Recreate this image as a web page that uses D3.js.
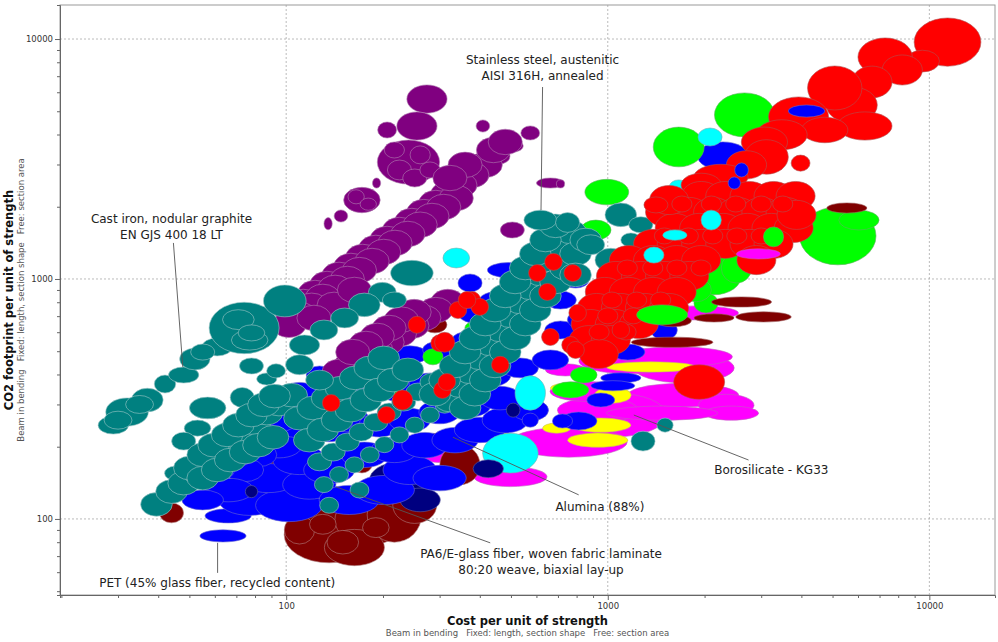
<!DOCTYPE html>
<html>
<head>
<meta charset="utf-8">
<script src="https://cdn.jsdelivr.net/npm/d3@7"></script>
<style>
  body { margin: 0; background: #fff; }
  svg text { font-family: "DejaVu Sans", Verdana, sans-serif; }
</style>
</head>
<body>
<svg id="chart"></svg>
<script>
// Each material: [cost per unit strength, CO2 per unit strength, cost range factor, CO2 range factor]
// (range factor = hi/centre, so a bubble spans value/f .. value*f); entries without factors use the set default
const costDomain = [19.8, 16000];
const co2Domain = [48.2, 13860];
const costTicks = [100, 1000, 10000];
const co2Ticks = [100, 1000, 10000];

const tealDefaultRange = [1.12, 1.12];
const purpleDefaultRange = [1.13, 1.13];
const redDefaultRange = [1.15, 1.15];
const dotDefaultRange = [1.065, 1.085];

const magentaGlass = [
  [1729, 426, 1.43, 1.155], [1714, 328, 1.49, 1.12], [1043, 271, 1.46, 1.235], [756, 209, 1.52, 1.155],
  [498, 150, 1.3, 1.1], [300, 189, 1.17, 1.1], [931, 284, 1.335, 1.13], [2336, 298, 1.22, 1.11],
  [2422, 276, 1.215, 1.07], [1910, 722, 1.335, 1.07], [1163, 455, 1.43, 1.13], [739, 418, 1.155, 1.06],
  [316, 351, 1.05, 1.04], [1476, 276, 1.49, 1.07], [1638, 474, 1.49, 1.1], [860, 340, 1.3, 1.1]
];
const magentaOverRed = [[2940, 1272, 1.17, 1.05]];

const yellowCeramics = [
  [931, 213, 1.24, 1.07], [951, 246, 1.24, 1.07], [1037, 328, 1.14, 1.08], [1363, 430, 1.38, 1.05],
  [756, 351, 1.14, 1.05], [480, 217, 1.075, 1.05], [693, 239, 1.105, 1.05]
];

const darkRedLow = [
  [136, 86, 1.38, 1.31], [182, 99, 1.285, 1.27], [217, 104, 1.215, 1.3], [163, 76, 1.24, 1.19],
  [110, 90, 1.115, 1.145], [251, 114, 1.17, 1.19], [150, 80, 1.12, 1.12], [190, 92, 1.1, 1.1],
  [130, 95, 1.1, 1.1], [347, 168, 1.155, 1.21], [44, 106, 1.09, 1.1], [94, 180, 1.09, 1.11],
  [172, 168, 1.075, 1.08], [294, 213, 1.06, 1.07]
];
const darkRedFront = [
  [5540, 1976, 1.155, 1.05], [2606, 802, 1.24, 1.05], [3049, 695, 1.22, 1.05], [2140, 688, 1.155, 1.04],
  [1585, 545, 1.34, 1.05], [1596, 670, 1.14, 1.06], [290, 644, 1.09, 1.08], [398, 398, 1.03, 1.04]
];

const navyBack = [[225, 145, 1.24, 1.19], [261, 120, 1.155, 1.12]];
const navyFront = [[425, 162, 1.115, 1.09], [508, 284, 1.05, 1.07], [78, 130, 1.045, 1.06], [129, 269, 1.04, 1.04]];

const blueLower = [
  [63.6, 85, 1.18, 1.06], [66, 103, 1.18, 1.07], [77, 120, 1.25, 1.16], [102, 114, 1.27, 1.17],
  [88, 148, 1.24, 1.15], [118, 139, 1.21, 1.15], [110, 176, 1.21, 1.15], [95, 203, 1.18, 1.13],
  [136, 160, 1.2, 1.14], [157, 120, 1.24, 1.15], [202, 132, 1.24, 1.15], [242, 160, 1.21, 1.15],
  [300, 148, 1.21, 1.13], [175, 185, 1.18, 1.13], [217, 194, 1.18, 1.13], [270, 203, 1.18, 1.13],
  [335, 213, 1.18, 1.13], [400, 235, 1.2, 1.13], [480, 258, 1.18, 1.13], [574, 284, 1.14, 1.11],
  [110, 246, 1.18, 1.13], [136, 235, 1.16, 1.12], [157, 258, 1.16, 1.12], [195, 246, 1.16, 1.12],
  [242, 258, 1.16, 1.12], [300, 279, 1.16, 1.12], [373, 298, 1.16, 1.12], [463, 319, 1.16, 1.12],
  [110, 328, 1.16, 1.13], [136, 313, 1.14, 1.12], [169, 328, 1.14, 1.12], [225, 345, 1.16, 1.12],
  [280, 362, 1.16, 1.12], [347, 379, 1.16, 1.12], [431, 398, 1.16, 1.12], [534, 426, 1.14, 1.1],
  [663, 460, 1.14, 1.1], [95, 258, 1.14, 1.12], [82, 185, 1.14, 1.12], [74, 160, 1.15, 1.12],
  [59.5, 160, 1.16, 1.12], [69, 185, 1.16, 1.12], [66, 132, 1.2, 1.12], [55, 120, 1.16, 1.1]
];
const blueUpper = [
  [127, 398, 1.1, 1.09], [152, 426, 1.12, 1.09], [188, 439, 1.12, 1.09], [242, 483, 1.14, 1.09],
  [300, 506, 1.13, 1.09], [373, 556, 1.14, 1.09], [400, 709, 1.16, 1.09], [463, 817, 1.16, 1.09],
  [490, 1089, 1.16, 1.075], [574, 900, 1.14, 1.09], [640, 1089, 1.14, 1.08], [713, 1570, 1.14, 1.05],
  [373, 962, 1.09, 1.09], [713, 817, 1.12, 1.09], [794, 990, 1.1, 1.08], [713, 613, 1.12, 1.09],
  [824, 677, 1.1, 1.09], [854, 531, 1.12, 1.09], [918, 677, 1.1, 1.09], [766, 1523, 1.09, 1.05]
];
const blueRight = [
  [1496, 613, 1.1, 1.1], [1155, 496, 1.13, 1.08], [1098, 387, 1.155, 1.05], [1037, 359, 1.17, 1.05],
  [812, 256, 1.14, 1.09], [723, 256, 1.075, 1.07], [574, 258, 1.06, 1.07], [951, 313, 1.105, 1.07],
  [2281, 3255, 1.2, 1.145]
];
const blueOverRed = [[4150, 5010, 1.14, 1.06], [2606, 2846, 1.05, 1.07], [2474, 2511, 1.045, 1.06]];

const greenSet = [
  [2662, 4827, 1.24, 1.235], [1662, 3549, 1.2, 1.21], [993, 2302, 1.17, 1.13], [5190, 1512, 1.315, 1.32],
  [6040, 1760, 1.155, 1.1], [2140, 1040, 1.22, 1.21], [2513, 1111, 1.115, 1.155], [2020, 794, 1.09, 1.1],
  [918, 1600, 1.115, 1.1], [286, 474, 1.075, 1.08], [213, 355, 1.075, 1.08], [766, 345, 1.14, 1.08],
  [971, 540, 1.09, 1.08], [381, 625, 1.06, 1.06], [1883, 900, 1.115, 1.12], [1412, 817, 1.09, 1.08],
  [842, 398, 1.1, 1.08]
];
const greenOverRed = [[3277, 1498, 1.075, 1.1], [1476, 709, 1.2, 1.1]];

const cyanSet = [
  [338, 1223, 1.1, 1.1], [498, 188, 1.22, 1.21], [574, 335, 1.115, 1.18], [182, 398, 1.075, 1.06],
  [2080, 3905, 1.09, 1.09], [1662, 2418, 1.07, 1.07]
];
const cyanOverRed = [[2097, 1760, 1.075, 1.1], [1617, 1523, 1.09, 1.05], [1391, 1258, 1.075, 1.08]];

const purpleCluster = [
  [274, 5623, 1.155, 1.145], [255, 4340, 1.155, 1.145], [206, 4177, 1.07, 1.08], [240, 3069, 1.25, 1.235],
  [225, 2846, 1.09, 1.1], [261, 3290, 1.075, 1.09], [251, 2635, 1.09, 1.09], [217, 3448, 1.075, 1.08],
  [280, 2846, 1.075, 1.08], [191, 2511, 1.03, 1.05], [172, 2133, 1.14, 1.13], [165, 2200, 1.06, 1.07],
  [180, 2050, 1.06, 1.06], [148, 1830, 1.05, 1.06], [135, 1700, 1.03, 1.06], [409, 4340, 1.05, 1.06],
  [574, 4060, 1.07, 1.07], [508, 3583, 1.075, 1.06], [460, 3255, 1.08, 1.08], [663, 2511, 1.105, 1.05],
  [505, 1600, 1.09, 1.08], [713, 2490, 1.03, 1.04]
];
const purpleBandUpper = [
  [416, 2990], [378, 2713], [347, 2463], [318, 2262], [292, 2073], [268, 1900], [246, 1744], [225, 1600],
  [206, 1468], [190, 1347], [173, 1235], [159, 1133], [146, 1040], [134, 953], [123, 874], [113, 802], [104, 736],
  [338, 2175], [309, 1995], [284, 1830], [261, 1683], [239, 1540], [218, 1413], [201, 1296], [185, 1188],
  [169, 1089], [155, 1000], [142, 918], [130, 842], [120, 773], [110, 709], [102, 644],
  [141, 780], [122, 688], [163, 900], [360, 2990], [323, 2635], [441, 3448], [480, 3725]
];
const purpleBandLower = [
  [318, 802], [292, 742], [268, 688], [246, 638], [225, 591], [206, 545], [190, 506], [173, 469], [159, 439], [146, 410],
  [250, 728], [228, 677], [209, 625], [192, 579], [177, 536], [161, 496]
];

const tealCastIron = [
  [29, 246, 1.115, 1.09], [32, 279, 1.165, 1.145], [37, 313, 1.12, 1.12], [42, 365, 1.08, 1.09],
  [48, 398, 1.115, 1.08], [52, 464, 1.115, 1.11], [61, 521, 1.115, 1.09], [74, 625, 1.285, 1.28],
  [99, 810, 1.165, 1.165], [77, 556, 1.14, 1.1], [35, 300, 1.105, 1.09], [55, 496, 1.09, 1.08],
  [30, 258, 1.105, 1.09], [71, 677, 1.12, 1.1], [78, 596, 1.1, 1.08], [78, 434, 1.09, 1.08],
  [87, 383, 1.075, 1.06], [93, 414, 1.07, 1.07], [73, 321, 1.09, 1.1], [57, 290, 1.14, 1.11],
  [53, 239, 1.1, 1.08], [48, 211, 1.09, 1.09], [45, 155, 1.075, 1.07]
];
const tealSteelBand = [
  [39.5, 115], [44, 130], [48, 141], [53, 157], [57, 173], [62, 190], [67, 207], [73, 228], [80, 251],
  [87, 276], [95, 301], [104, 328],
  [50, 163], [55, 185], [59.5, 203], [65.5, 224], [71, 246], [78, 271], [85, 299], [92, 325],
  [55, 148], [61, 160], [67, 176], [74.5, 190], [82, 203], [91, 219]
];
const tealMidMass = [
  [110, 263], [121, 290], [134, 319], [148, 351], [164, 387], [182, 426], [201, 469],
  [118, 213], [130, 235], [144, 258], [159, 284], [177, 313], [195, 345], [215, 379], [239, 418],
  [127, 173, 1.09, 1.09], [140, 190, 1.09, 1.09], [155, 209, 1.09, 1.09], [171, 230, 1.09, 1.09],
  [190, 253, 1.09, 1.09], [209, 279, 1.09, 1.09], [232, 307, 1.09, 1.09], [257, 338, 1.09, 1.09], [284, 372, 1.09, 1.09],
  [131, 139, 1.07, 1.08], [146, 153, 1.07, 1.08], [163, 168, 1.07, 1.08], [182, 185, 1.07, 1.08],
  [202, 204, 1.07, 1.08], [225, 224, 1.07, 1.08], [251, 246, 1.07, 1.08], [280, 271, 1.07, 1.08], [311, 298, 1.07, 1.08],
  [136, 114, 1.07, 1.08], [169, 132, 1.07, 1.08],
  [246, 1058, 1.165, 1.13], [199, 880, 1.105, 1.1], [175, 780], [152, 688, 1.105, 1.1], [131, 613, 1.105, 1.1],
  [114, 531, 1.115, 1.1], [110, 439, 1.105, 1.1], [127, 379, 1.105, 1.1], [217, 817, 1.09, 1.08]
];
const tealStainless = [
  [323, 313], [347, 359], [373, 410], [400, 469], [431, 536], [463, 613], [498, 702], [534, 802], [574, 918],
  [617, 1049], [663, 1199], [713, 1373], [766, 1570],
  [360, 290], [386, 331], [416, 379], [446, 434], [480, 496], [515, 567], [554, 649], [595, 742], [640, 850],
  [688, 972], [739, 1111], [794, 1272], [854, 1454],
  [290, 331], [311, 379], [335, 434], [360, 496], [386, 567], [416, 649], [446, 742], [480, 850], [515, 972],
  [554, 1111], [595, 1272], [640, 1454], [688, 1665],
  [617, 1760, 1.125, 1.1], [750, 1720, 1.09, 1.1],
  [1098, 1850], [1267, 1683, 1.09, 1.08], [885, 1389, 1.105, 1.1], [1022, 1199], [794, 1040], [1180, 1454, 1.075, 1.07],
  [1507, 246, 1.06, 1.07], [1287, 211, 1.09, 1.1]
];

const redChain = [
  [11390, 9710, 1.27, 1.26], [9513, 8090, 1.13, 1.11], [7287, 8420, 1.215, 1.2], [8236, 7430, 1.155, 1.155],
  [6630, 6620, 1.155, 1.165], [5740, 5310, 1.2, 1.19], [5080, 6250, 1.215, 1.235], [6300, 4340, 1.215, 1.145],
  [3920, 4740, 1.24, 1.21], [4730, 4177, 1.18, 1.13], [3475, 3990, 1.2, 1.155], [3070, 3720, 1.18, 1.155],
  [3113, 3225, 1.17, 1.18], [2700, 2990, 1.155, 1.145], [3977, 3040, 1.07, 1.08], [2248, 2660, 1.215, 1.13],
  [1952, 2463, 1.155, 1.12]
];
const redMass = [
  [1952, 2217], [2319, 2217], [2760, 2217], [3277, 2217], [3838, 2217],
  [1507, 1902], [1793, 1902], [2126, 1902], [2532, 1902], [3004, 1902], [3572, 1902],
  [1615, 1632], [1924, 1632], [2285, 1632], [2720, 1632], [3229, 1632], [3785, 1632],
  [1383, 1400], [1638, 1400], [1952, 1400], [2319, 1400], [2760, 1400], [3277, 1400],
  [1163, 1199], [1383, 1199], [1638, 1199], [1952, 1199], [2898, 1199],
  [1060, 1029], [1267, 1029], [1507, 1029], [1793, 1029],
  [979, 883], [1163, 883], [1383, 883], [1638, 883],
  [924, 757], [1098, 757], [1304, 757], [1551, 757],
  [885, 649], [1052, 649], [1249, 649],
  [872, 556], [1022, 556], [938, 487],
  [3864, 1850], [1551, 2133], [1412, 2035, 1.09, 1.08],
  [1700, 2053, 1.075, 1.08], [2100, 2053, 1.075, 1.08], [2500, 2053, 1.075, 1.08], [3000, 2053, 1.075, 1.08], [3500, 2053, 1.075, 1.08],
  [1500, 1511, 1.075, 1.08], [1780, 1511, 1.075, 1.08], [2120, 1511, 1.075, 1.08], [2520, 1511, 1.075, 1.08], [3000, 1511, 1.075, 1.08],
  [1150, 1111, 1.075, 1.08], [1380, 1111, 1.075, 1.08], [1640, 1111, 1.075, 1.08], [1950, 1111, 1.075, 1.08],
  [1030, 817, 1.075, 1.08], [1230, 817, 1.075, 1.08], [1460, 817, 1.075, 1.08],
  [1000, 702, 1.075, 1.08], [1200, 702, 1.075, 1.08], [940, 601, 1.075, 1.08], [1140, 601, 1.075, 1.08]
];
const redDots = [
  [255, 644], [378, 817], [342, 742], [300, 540], [604, 1058], [678, 1178], [778, 1058], [649, 883],
  [663, 573], [766, 531], [138, 304], [230, 313, 1.075, 1.1], [205, 271], [306, 345], [463, 439], [316, 372],
  [400, 765], [365, 817], [311, 545, 1.075, 1.1], [806, 722], [1098, 613], [794, 506], [1924, 372, 1.2, 1.18]
];

const annotations = [
  { lines: ["Stainless steel, austenitic", "AISI 316H, annealed"], at: [627, 8170], from: [627, 6310], to: [620, 1937] },
  { lines: ["Cast iron, nodular graphite", "EN GJS 400 18 LT"], at: [44, 1778], from: [44.6, 1413], to: [47.7, 430] },
  { lines: ["PET (45% glass fiber, recycled content)"], at: [61, 54], from: [61.2, 59.6], to: [61.2, 79.5] },
  { lines: ["PA6/E-glass fiber, woven fabric laminate", "80:20 weave, biaxial lay-up"], at: [620, 71.5], from: [431, 79.5], to: [143, 136] },
  { lines: ["Alumina (88%)"], at: [945, 112], from: [812, 126], to: [330, 219] },
  { lines: ["Borosilicate - KG33"], at: [3225, 160], from: [2740, 176], to: [1205, 271] }
];

// ---- layout
const W = 998, H = 642;
const margin = { top: 5, right: 3, bottom: 47, left: 60 };
const width = W - margin.left - margin.right;
const height = H - margin.top - margin.bottom;

const svg = d3.select("#chart").attr("width", W).attr("height", H);
const chart = svg.append("g").attr("transform", `translate(${margin.left},${margin.top})`);

const x = d3.scaleLog().domain(costDomain).range([0, width]);
const y = d3.scaleLog().domain(co2Domain).range([height, 0]);

svg.append("defs").append("clipPath").attr("id", "plotClip")
  .append("rect").attr("width", width).attr("height", height);

// grid at decades
chart.append("g").selectAll("line").data(costTicks).join("line")
  .attr("x1", d => x(d)).attr("x2", d => x(d)).attr("y1", 0).attr("y2", height)
  .attr("stroke", "#aaa").attr("stroke-width", 0.8).attr("stroke-dasharray", "2,2");
chart.append("g").selectAll("line").data(co2Ticks).join("line")
  .attr("y1", d => y(d)).attr("y2", d => y(d)).attr("x1", 0).attr("x2", width)
  .attr("stroke", "#aaa").attr("stroke-width", 0.8).attr("stroke-dasharray", "2,2");

const plot = chart.append("g").attr("clip-path", "url(#plotClip)");

function drawSet(data, fill, stroke, defRange = [1.1, 1.095]) {
  plot.append("g")
    .selectAll("ellipse")
    .data(data)
    .join("ellipse")
    .attr("cx", d => x(d[0]))
    .attr("cy", d => y(d[1]))
    .attr("rx", d => { const f = d[2] || defRange[0]; return (x(d[0] * f) - x(d[0] / f)) / 2; })
    .attr("ry", d => { const f = d[3] || defRange[1]; return (y(d[1] / f) - y(d[1] * f)) / 2; })
    .attr("fill", fill)
    .attr("stroke", stroke)
    .attr("stroke-width", 0.8)
    .attr("stroke-opacity", 0.75);
}

// back to front
drawSet(magentaGlass, "#ff00ff", "#c060c0");
drawSet(yellowCeramics, "#ffff00", "#c8c060");
drawSet(darkRedLow, "#800000", "#b08080");
drawSet(navyBack, "#000080", "#6060a0");
drawSet(blueLower, "#0000ff", "#6a6ad0");
drawSet(blueUpper, "#0000ff", "#6a6ad0");
drawSet(blueRight, "#0000ff", "#6a6ad0");
drawSet(greenSet, "#00ff00", "#60b060");
drawSet(cyanSet, "#00ffff", "#70b0b0");
drawSet(navyFront, "#000080", "#6060a0");
drawSet(darkRedFront, "#800000", "#a06060");
drawSet(purpleCluster, "#800080", "#b080b0");
drawSet(purpleBandUpper, "#800080", "#b080b0", purpleDefaultRange);
drawSet(purpleBandLower, "#800080", "#b080b0", purpleDefaultRange);
drawSet(tealCastIron, "#008080", "#a0c8c8");
drawSet(tealSteelBand, "#008080", "#a0c8c8", tealDefaultRange);
drawSet(tealMidMass, "#008080", "#a0c8c8", tealDefaultRange);
drawSet(tealStainless, "#008080", "#a0c8c8", tealDefaultRange);
drawSet(redChain, "#ff0000", "#b05050");
drawSet(redMass, "#ff0000", "#b05050", redDefaultRange);
drawSet(redDots, "#ff0000", "#b05050", dotDefaultRange);
drawSet(magentaOverRed, "#ff00ff", "#c060c0");
drawSet(greenOverRed, "#00ff00", "#60b060");
drawSet(cyanOverRed, "#00ffff", "#70b0b0");
drawSet(blueOverRed, "#0000ff", "#6a6ad0");

// frame
chart.append("rect").attr("width", width).attr("height", height)
  .attr("fill", "none").attr("stroke", "#9a9a9a").attr("stroke-width", 1);

// axes
const xAxis = d3.axisBottom(x).tickValues(x.ticks()).tickSize(3).tickPadding(5)
  .tickFormat(d => costTicks.includes(d) ? d : "");
const yAxis = d3.axisLeft(y).tickValues(y.ticks()).tickSize(3).tickPadding(4)
  .tickFormat(d => co2Ticks.includes(d) ? d : "");

const xAxisGroup = chart.append("g").attr("transform", `translate(0,${height})`).call(xAxis);
const yAxisGroup = chart.append("g").call(yAxis);

[xAxisGroup, yAxisGroup].forEach(g => {
  g.select(".domain").attr("stroke", "#666");
  g.selectAll(".tick line").attr("stroke", "#666");
  g.selectAll(".tick text").attr("fill", "#333").style("font-size", "8.5px");
});
xAxisGroup.selectAll(".tick").filter(d => costTicks.includes(d)).select("line").attr("y2", 5);
yAxisGroup.selectAll(".tick").filter(d => co2Ticks.includes(d)).select("line").attr("x2", -5);

// axis titles
svg.append("text")
  .attr("x", margin.left + width / 2).attr("y", 625)
  .attr("text-anchor", "middle")
  .style("font-size", "11.5px").style("font-weight", "bold").attr("fill", "#111")
  .text("Cost per unit of strength");
svg.append("text")
  .attr("x", margin.left + width / 2).attr("y", 636)
  .attr("text-anchor", "middle")
  .style("font-size", "8.5px").style("white-space", "pre").attr("fill", "#555")
  .text("Beam in bending   Fixed: length, section shape   Free: section area");

svg.append("text")
  .attr("transform", `translate(13,${margin.top + height / 2}) rotate(-90)`)
  .attr("text-anchor", "middle")
  .style("font-size", "11.5px").style("font-weight", "bold").attr("fill", "#111")
  .text("CO2 footprint per unit of strength");
svg.append("text")
  .attr("transform", `translate(24,${margin.top + height / 2}) rotate(-90)`)
  .attr("text-anchor", "middle")
  .style("font-size", "8.5px").style("white-space", "pre").attr("fill", "#555")
  .text("Beam in bending   Fixed: length, section shape   Free: section area");

// annotations
const notes = chart.append("g");
annotations.forEach(a => {
  notes.append("line")
    .attr("x1", x(a.from[0])).attr("y1", y(a.from[1]))
    .attr("x2", x(a.to[0])).attr("y2", y(a.to[1]))
    .attr("stroke", "#555").attr("stroke-width", 0.9);
  const t = notes.append("text")
    .attr("x", x(a.at[0])).attr("y", y(a.at[1]))
    .attr("text-anchor", "middle")
    .style("font-size", "12px").attr("fill", "#222");
  a.lines.forEach((line, i) => {
    t.append("tspan").attr("x", x(a.at[0])).attr("dy", i === 0 ? "0.35em" : "16").text(line);
  });
});
</script>
</body>
</html>
